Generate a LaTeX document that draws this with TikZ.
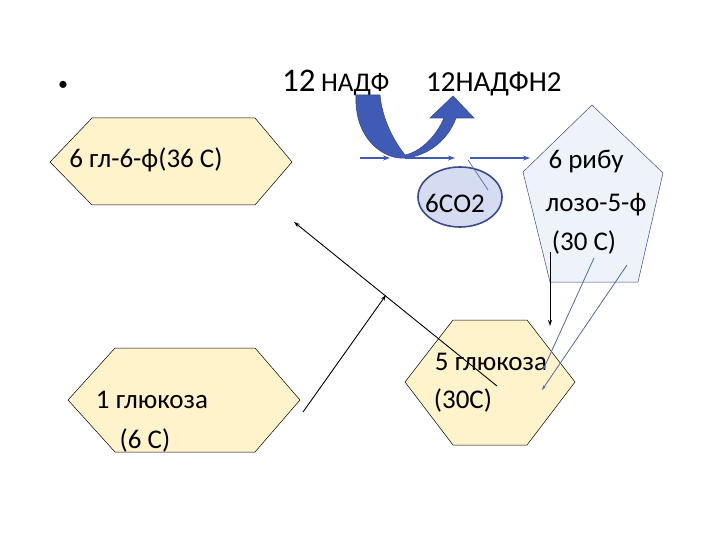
\documentclass[tikz,border=0pt]{standalone}
\usepackage{fontspec}
\setmainfont{Carlito}
\usetikzlibrary{arrows.meta,shapes.geometric}
\definecolor{hexfill}{HTML}{FFF3CC}
\definecolor{pentfill}{HTML}{EEF3FA}
\definecolor{ellfill}{HTML}{D5DBF0}
\definecolor{darkblue}{HTML}{3A4A8C}
\definecolor{midblue}{HTML}{3F5BB5}
\definecolor{linkblue}{HTML}{5566AA}
\tikzset{
  shapeline/.style={draw=black, line width=0.5pt},
  lbl/.style={font=\fontsize{27}{32}\selectfont, inner sep=0pt},
  blk/.style={draw=black, line width=0.9pt, -{Stealth[length=6pt,width=4pt]}},
  blu/.style={draw=linkblue, line width=0.8pt, -{Stealth[length=5pt,width=3pt]}},
  hor/.style={draw=midblue, line width=1.3pt, -{Stealth[length=7pt,width=5pt]}}
}
\begin{document}
\begin{tikzpicture}[x=1pt,y=-1pt]
\useasboundingbox (0,0) rectangle (720,540);
% hexagons
\filldraw[shapeline, fill=hexfill] (50,162)--(92,118)--(255,118)--(292,162)--(255,205)--(92,205)--cycle;
\filldraw[shapeline, fill=hexfill] (68,400)--(115,348)--(255,348)--(300,400)--(255,452)--(115,452)--cycle;
\filldraw[shapeline, fill=hexfill] (405,382)--(453,320)--(527,320)--(575,382)--(527,445)--(453,445)--cycle;
% pentagon
\filldraw[draw=darkblue, line width=0.5pt, fill=pentfill] (592,105)--(663,173)--(638,282)--(550,282)--(523,172)--cycle;
% ellipse
\filldraw[draw=darkblue, line width=1.6pt, fill=ellfill] (460,197) ellipse (42 and 30);
% labels
\node[lbl] (h1) at (146,160) {6 гл-6-ф(36 С)};
\node[lbl] (h2a) at (152,400) {1 глюкоза};
\node[lbl] (h2b) at (145,440) {(6 С)};
\node[lbl] (h3a) at (491,362) {5 глюкоза};
\node[lbl] (h3b) at (463,400) {(30С)};
\node[lbl] (p1) at (586,161) {6 рибу};
\node[lbl] (p2) at (596,205) {лозо-5-ф};
\node[lbl] (p3) at (584,242) {(30 С)};
\node[lbl] (co2) at (455,203) {6СО2};
\node[font=\fontsize{20}{20}\selectfont, inner sep=0pt] (bul) at (63,86) {•};
\node[lbl, anchor=base west] (nadf) at (282,92) {\fontsize{33}{34}\selectfont 12\,\fontsize{27}{32}\selectfont НАДФ};
\node[lbl, anchor=base west] (nadfh) at (426,92) {\fontsize{29}{32}\selectfont 12НАДФН2};
% curved blue arrow
\filldraw[draw=darkblue, line width=0.6pt, fill=midblue]
 (356,95) .. controls (354,140) and (385,160) .. (405,158)
 .. controls (428,156) and (448,140) .. (456,118) -- (474,118) -- (453,96) -- (430,118) -- (444,118)
 .. controls (436,137) and (420,152) .. (405,155)
 .. controls (393,140) and (382,118) .. (380,95) -- cycle;
% horizontal arrows
\coordinate (a1) at (360,158); \coordinate (a2) at (390,158);
\coordinate (b1) at (405,158); \coordinate (b2) at (455,158);
\coordinate (c1) at (470,158); \coordinate (c2) at (530,158);
\draw[hor] (a1) -- (a2);
\draw[hor] (b1) -- (b2);
\draw[hor] (c1) -- (c2);
\coordinate (s1) at (468,160); \coordinate (s2) at (488,190);
\draw[draw=linkblue, line width=0.7pt] (s1) -- (s2);
% black arrows
\coordinate (d1) at (550,252); \coordinate (d2) at (550,326);
\draw[blk] (d1) -- (d2);
\coordinate (e1) at (497,386); \coordinate (e2) at (294,222);
\draw[blk] (e1) -- (e2);
\coordinate (f1) at (303,412); \coordinate (f2) at (386,295);
\draw[blk] (f1) -- (f2);
% blue thin arrows
\coordinate (g1) at (594,258); \coordinate (g2) at (543,370);
\coordinate (k1) at (627,265); \coordinate (k2) at (542,390);
\draw[blu] (g1) -- (g2);
\draw[blu] (k1) -- (k2);
\end{tikzpicture}
\end{document}
